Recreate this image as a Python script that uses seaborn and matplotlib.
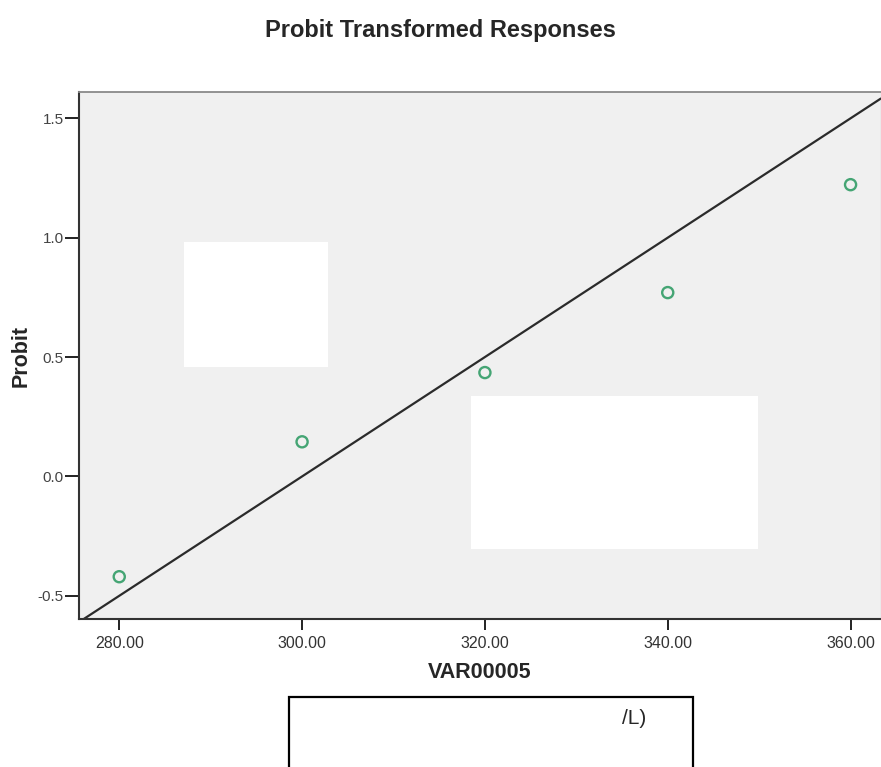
import matplotlib
matplotlib.use("Agg")
import matplotlib.pyplot as plt
import pandas as pd
import seaborn as sns
from matplotlib.patches import Rectangle

# data
dose = [280.0, 300.0, 320.0, 340.0, 360.0]
probit = [-0.42, 0.145, 0.435, 0.77, 1.222]
fit_intercept = -7.5
fit_slope = 0.025

x_ticks = [280, 300, 320, 340, 360]
y_ticks = [-0.5, 0.0, 0.5, 1.0, 1.5]

df = pd.DataFrame({"VAR00005": dose, "Probit": probit})

sns.set_style("white")
plt.rcParams["font.family"] = ["Liberation Sans", "DejaVu Sans"]

fig = plt.figure(figsize=(8.81, 7.67), dpi=100)
ax = fig.add_axes([0.0897, 0.193, 0.910, 0.687])
ax.set_facecolor("#f0f0f0")

# fitted probit line
ax.axline((0, fit_intercept), slope=fit_slope, color="#2b2b2b", lw=1.6, zorder=2)
sns.scatterplot(data=df, x="VAR00005", y="Probit", ax=ax, s=64,
                facecolor="none", edgecolor="#45a574", linewidth=1.7, zorder=3)

ax.set_xlim(275.6, 363.3)
ax.set_ylim(-0.597, 1.61)
ax.set_xticks(x_ticks)
ax.set_xticklabels([f"{v:.2f}" for v in x_ticks], fontsize=11.5, color="#333333")
ax.set_yticks(y_ticks)
ax.set_yticklabels([f"{v:.1f}" for v in y_ticks], fontsize=11, color="#444444")
ax.tick_params(axis="both", direction="out", length=8, width=1.4, color="#222222",
               bottom=True, left=True)
ax.tick_params(axis="x", pad=4)
ax.tick_params(axis="y", pad=1, length=10)

for side in ["left", "bottom"]:
    ax.spines[side].set_color("#333333")
    ax.spines[side].set_linewidth(1.5)
ax.spines["top"].set_color("#8a8a8a")
ax.spines["top"].set_linewidth(1.3)
ax.spines["right"].set_color("#8a8a8a")

ax.set_xlabel("VAR00005", fontsize=15.5, fontweight="bold", labelpad=8)
ax.set_ylabel("Probit", fontsize=15.5, fontweight="bold", labelpad=4)
fig.text(0.5, 1 - 30 / 767, "Probit Transformed Responses", ha="center", va="center",
         fontsize=17, fontweight="bold")

# white redaction boxes inside the plot
for (bx, by, bw, bh) in [(0.131, 0.478, 0.180, 0.237), (0.489, 0.133, 0.358, 0.290)]:
    ax.add_patch(Rectangle((bx, by), bw, bh, transform=ax.transAxes,
                           facecolor="white", edgecolor="none", zorder=4))

# boxed caption under the chart
fig.patches.append(Rectangle((289 / 881, -0.01), 404 / 881, 70 / 767 + 0.01,
                             transform=fig.transFigure, facecolor="white",
                             edgecolor="black", lw=1.6))
fig.text(634 / 881, 1 - 719 / 767, "/L)", ha="center", va="center", fontsize=15)

fig.savefig("out.png", dpi=100)
